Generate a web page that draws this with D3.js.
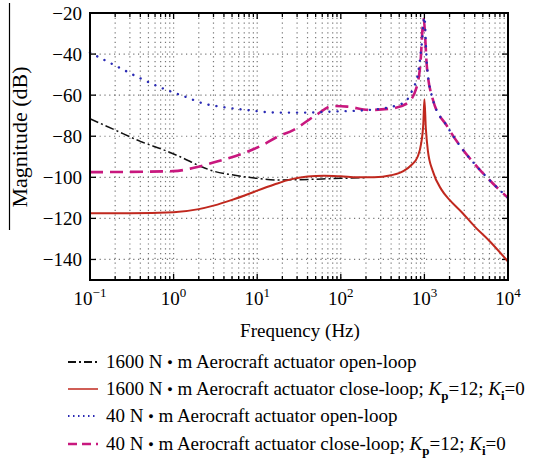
<!DOCTYPE html>
<html><head><meta charset="utf-8">
<script src="https://cdn.jsdelivr.net/npm/d3@7"></script>
<style>
@font-face{font-family:"ChartSerif";src:local("Liberation Serif"),local("LiberationSerif"),local("LiberationSerif-Regular"),local("Times New Roman");font-style:normal;font-weight:400;}
@font-face{font-family:"ChartSerif";src:local("Liberation Serif Italic"),local("LiberationSerif-Italic");font-style:italic;font-weight:400;}
@font-face{font-family:"ChartSerif";src:local("Liberation Serif Bold"),local("LiberationSerif-Bold");font-style:normal;font-weight:700;}
svg text, svg tspan{font-family:"Liberation Serif","ChartSerif","Times New Roman",serif !important;}
</style>
</head><body style="margin:0"><svg id="c" width="546" height="462"></svg>
<script>
// ---- data (frequency in Hz, magnitude in dB) ----
const blackF = [0.1,0.2,0.4,0.8,1.2,2.2,3,5,10,17,30,60,100,200];
const blackM = [-71.5,-77,-82.5,-87,-90,-95,-97,-98.8,-100.5,-101.3,-101.2,-100.8,-100.5,-100.2];
const redF = [0.1,0.3,1,2,3,5,8,10,16,25,40,63,100,160,250,400,560,700,830,910,970,1000,1040,1100,1260,1600,2000,2800,4000,6000,10000];
const redM = [-117.5,-117.5,-117,-115.5,-113.8,-111,-108,-106.5,-103.5,-101,-99.6,-99.2,-99.5,-100,-100,-99,-97,-94,-90,-84,-74,-62,-76,-87,-97,-106,-111,-117,-124,-131,-141];
const blueF = [0.1,0.21,0.4,0.83,1.37,2.24,3.6,7.4,17,40,80,220,550,710,850,930,1000,1070,1260,1860,2700,4300,6600,10000];
const blueM = [-39.3,-46,-51.8,-57.5,-60.7,-64,-65.6,-67.2,-68.5,-68.5,-68,-67.2,-64,-58,-48,-35,-22,-45,-62,-75,-85,-95,-103,-110];
const magF = [0.1,1,1.7,3.3,6.8,12,17,27,51,80,120,220,420,620,810,890,980,1070,1260,1860,2700,4300,6600,10000];
const magM = [-97.5,-97,-95.5,-92.3,-88.3,-84,-80.5,-77,-69.6,-65.3,-65.6,-67.2,-66.4,-64,-56,-46,-23,-46,-62,-75,-85,-95,-103,-110];
const xTickExp = [-1,0,1,2,3,4];
const yTicks = [-140,-120,-100,-80,-60,-40,-20];
const legendLabels = [
  ["1600 N", "m Aerocraft actuator open-loop", false],
  ["1600 N", "m Aerocraft actuator close-loop; ", true],
  ["40 N", "m Aerocraft actuator open-loop", false],
  ["40 N", "m Aerocraft actuator close-loop; ", true]
];

const FONT = "'Liberation Serif', ChartSerif, 'Times New Roman', serif";
const svg = d3.select("#c");
const L=90,R=508,T=13,B=280;
const x = d3.scaleLog().domain([0.1,1e4]).range([L,R]);
const y = d3.scaleLinear().domain([-150,-20]).range([B,T]);
const txt = (sel)=>sel.append("text").attr("font-family",FONT).style("font-family",FONT,"important");

// grid
const minor = [];
for (let e=-1;e<4;e++) for (let k=1;k<10;k++) minor.push(k*Math.pow(10,e));
minor.push(1e4);
const g = svg.append("g");
g.selectAll(".vg").data(minor.filter(v=>v>0.1&&v<1e4)).enter().append("line")
 .attr("x1",d=>x(d)).attr("x2",d=>x(d)).attr("y1",T).attr("y2",B)
 .attr("stroke","#777").attr("stroke-width",1.2).attr("stroke-dasharray","1.2,3.6");
g.selectAll(".hg").data(yTicks.filter(v=>v>-150&&v<-20)).enter().append("line")
 .attr("x1",L).attr("x2",R).attr("y1",d=>y(d)).attr("y2",d=>y(d))
 .attr("stroke","#777").attr("stroke-width",1.2).attr("stroke-dasharray","1.2,3.6");

// ticks (inward)
const isMajor = v => Math.abs(Math.log10(v)-Math.round(Math.log10(v)))<1e-9;
minor.forEach(v=>{
  const len = isMajor(v)?6:4;
  svg.append("line").attr("x1",x(v)).attr("x2",x(v)).attr("y1",B).attr("y2",B-len).attr("stroke","#000").attr("stroke-width",1.3);
  svg.append("line").attr("x1",x(v)).attr("x2",x(v)).attr("y1",T).attr("y2",T+len).attr("stroke","#000").attr("stroke-width",1.3);
});
yTicks.forEach(v=>{
  svg.append("line").attr("x1",L).attr("x2",L+6).attr("y1",y(v)).attr("y2",y(v)).attr("stroke","#000").attr("stroke-width",1.3);
  svg.append("line").attr("x1",R).attr("x2",R-6).attr("y1",y(v)).attr("y2",y(v)).attr("stroke","#000").attr("stroke-width",1.3);
});

// curves
const line = d3.line().x(d=>x(d[0])).y(d=>y(d[1])).curve(d3.curveMonotoneX);
const zip=(a,b)=>a.map((v,i)=>[v,b[i]]);
const plot = svg.append("g");
const series = [
  {f:blackF,m:blackM,c:"#111",w:1.5,d:"9,3,2,3"},
  {f:redF,m:redM,c:"#c0281e",w:2,d:null},
  {f:magF,m:magM,c:"#c8187e",w:2.6,d:"13,7"},
  {f:blueF,m:blueM,c:"#2a2ab4",w:2.4,d:"0.1,8"}
];
series.forEach(s=>{
  const p=plot.append("path").attr("d",line(zip(s.f,s.m))).attr("fill","none")
   .attr("stroke",s.c).attr("stroke-width",s.w);
  if(s.d) p.attr("stroke-dasharray",s.d);
  if(s.c==="#2a2ab4") p.attr("stroke-linecap","round");
});

// frame
svg.append("rect").attr("x",L).attr("y",T).attr("width",R-L).attr("height",B-T)
 .attr("fill","none").attr("stroke","#000").attr("stroke-width",2);

// y tick labels
yTicks.forEach(v=>{
  txt(svg).attr("x",82).attr("y",y(v)+6.5).attr("text-anchor","end")
   .attr("font-size",19).text("\u2212"+Math.abs(v));
});
// x tick labels
xTickExp.forEach(e=>{
  const t=txt(svg).attr("x",x(Math.pow(10,e))).attr("y",305).attr("text-anchor","middle").attr("font-size",19);
  t.append("tspan").text("10");
  t.append("tspan").attr("dy",-8).attr("font-size",13).text(e<0?"\u2212"+Math.abs(e):String(e));
});
// axis titles
txt(svg).attr("x",300).attr("y",337).attr("text-anchor","middle").attr("font-size",19).text("Frequency (Hz)");
txt(svg).attr("transform","translate(27,137) rotate(-90)").attr("text-anchor","middle").attr("font-size",22).text("Magnitude (dB)");
svg.append("line").attr("x1",9.5).attr("x2",9.5).attr("y1",3).attr("y2",230).attr("stroke","#000").attr("stroke-width",1.2);

// legend (order: black, red, blue, magenta)
const legY=[368,395,422,450];
const legOrder=[0,1,3,2];
legOrder.forEach((si,i)=>{
  const s=series[si], yy=legY[i]-6;
  const ln=svg.append("line").attr("x1",68).attr("x2",98).attr("y1",yy).attr("y2",yy)
   .attr("stroke",s.c).attr("stroke-width",si===1?1.5:(si===2?2.4:1.8));
  if(si===0) ln.attr("stroke-dasharray","8,3,2,3");
  if(si===2) ln.attr("stroke-dasharray","9,5");
  if(si===3) ln.attr("stroke-dasharray","1.5,3.5");
  const lab=legendLabels[i];
  const t=txt(svg).attr("x",106).attr("y",legY[i]).attr("font-size",19);
  t.append("tspan").text(lab[0]+" ");
  t.append("tspan").attr("font-size",9).attr("dy",-3).text("\u25CF");
  t.append("tspan").attr("dy",3).text(" "+lab[1]);
  if(lab[2]){
    t.append("tspan").attr("font-style","italic").text("K");
    t.append("tspan").attr("font-size",13).attr("font-weight","bold").attr("dy",5).text("p");
    t.append("tspan").attr("dy",-5).text("=12; ");
    t.append("tspan").attr("font-style","italic").text("K");
    t.append("tspan").attr("font-size",13).attr("font-weight","bold").attr("dy",5).text("i");
    t.append("tspan").attr("dy",-5).text("=0");
  }
});
</script></body></html>
